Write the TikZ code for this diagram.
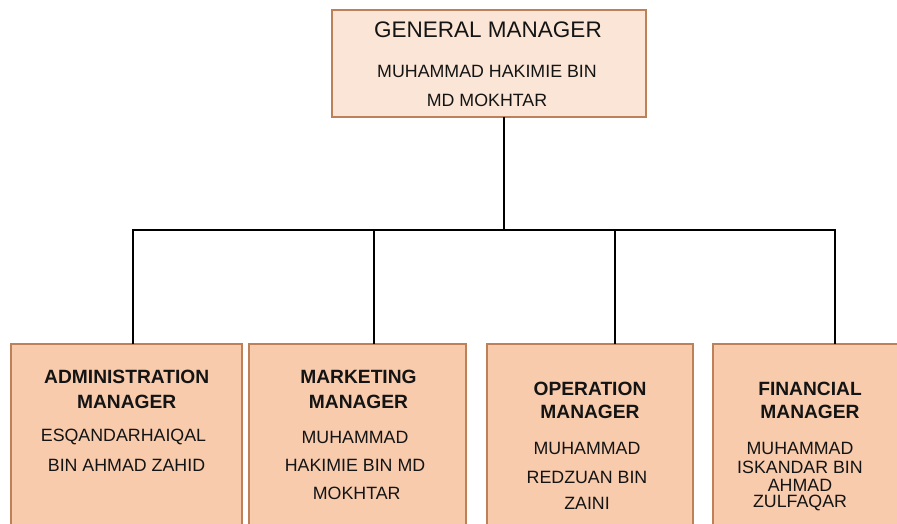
\documentclass[tikz,border=0pt]{standalone}
\usepackage{fontspec}
\setmainfont{Liberation Sans}
\definecolor{topfill}{HTML}{FBE5D6}
\definecolor{botfill}{HTML}{F8CBAD}
\definecolor{boxedge}{HTML}{BE8058}
\definecolor{txt}{HTML}{141414}
\begin{document}
\begin{tikzpicture}[x=1pt,y=-1pt,
  orgbox/.style={draw=boxedge,line width=1.8pt,inner sep=0pt,outer sep=0pt},
  gmbox/.style={orgbox,fill=topfill},
  mgrbox/.style={orgbox,fill=botfill},
  roletext/.style={inner sep=0pt,text=txt,font=\fontsize{19.2}{21}\selectfont\bfseries},
  persontext/.style={inner sep=0pt,text=txt,font=\fontsize{17.8}{20}\selectfont},
  wire/.style={line width=2.5pt,black}]
\useasboundingbox (0,0) rectangle (897,524);
\clip (0,0) rectangle (897,524);
% boxes
\node[gmbox,minimum width=314pt,minimum height=107pt] (gm) at (489,63.5) {};
\node[mgrbox,minimum width=231pt,minimum height=200pt] (adm) at (126.5,444) {};
\node[mgrbox,minimum width=217pt,minimum height=200pt] (mkt) at (357.5,444) {};
\node[mgrbox,minimum width=206pt,minimum height=200pt] (opr) at (590,444) {};
\node[mgrbox,minimum width=192pt,minimum height=200pt] (fin) at (809,444) {};
% texts top
\node[inner sep=0pt,text=txt,font=\fontsize{22.5}{25}\selectfont] (gmt) at (488,29.5) {GENERAL MANAGER};
\node[persontext] (gmn1) at (487,71) {MUHAMMAD HAKIMIE BIN};
\node[persontext] (gmn2) at (487,100.5) {MD MOKHTAR};
% admin
\node[roletext] (admt1) at (126.7,377) {ADMINISTRATION};
\node[roletext] (admt2) at (126.7,401.5) {MANAGER};
\node[persontext] (admn1) at (123.5,437) {ESQANDARHAIQAL};
\node[persontext] (admn2) at (126.5,465.5) {BIN AHMAD ZAHID};
% marketing
\node[roletext] (mktt1) at (358.5,377) {MARKETING};
\node[roletext] (mktt2) at (358.5,401.5) {MANAGER};
\node[persontext] (mktn1) at (355,437) {MUHAMMAD};
\node[persontext] (mktn2) at (355,465.5) {HAKIMIE BIN MD};
\node[persontext] (mktn3) at (356.7,493) {MOKHTAR};
% operation
\node[roletext] (oprt1) at (590,388.5) {OPERATION};
\node[roletext] (oprt2) at (590,412) {MANAGER};
\node[persontext] (oprn1) at (587,448.5) {MUHAMMAD};
\node[persontext] (oprn2) at (587,477) {REDZUAN BIN};
\node[persontext] (oprn3) at (587,503.5) {ZAINI};
% financial
\node[roletext] (fint1) at (810,388.5) {FINANCIAL};
\node[roletext] (fint2) at (810,412) {MANAGER};
\node[persontext] (finn1) at (800,448.5) {MUHAMMAD};
\node[persontext] (finn2) at (800,467.3) {ISKANDAR BIN};
\node[persontext] (finn3) at (800,485) {AHMAD};
\node[persontext] (finn4) at (800,502.7) {ZULFAQAR};
% connectors
\coordinate (bus) at (504,230);
\draw[wire] ([xshift=15pt]gm.south) -- (bus);
\draw[wire] (bus) -| ([xshift=6.5pt]adm.north);
\draw[wire] (bus) -| ([xshift=16.5pt]mkt.north);
\draw[wire] (bus) -| ([xshift=25pt]opr.north);
\draw[wire] (bus) -| ([xshift=26pt]fin.north);
\end{tikzpicture}
\end{document}
